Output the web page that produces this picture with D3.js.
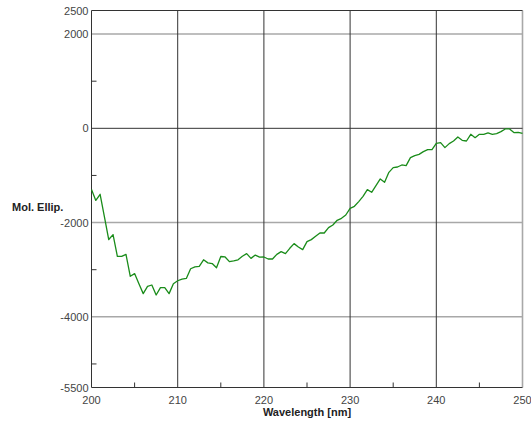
<!DOCTYPE html>
<html lang="en">

<head>
    <meta charset="UTF-8">
    <title>CD Spectrum</title>
    <script src="https://d3js.org/d3.v7.min.js"></script>
</head>

<style>
    body { margin: 0; background: #fff; }
    svg { display: block; font-family: Arial, "Liberation Sans", sans-serif; }
    .tick-label { font-size: 11px; fill: #444; }
    .axis-title { font-size: 11px; font-weight: bold; fill: #222; }
</style>

<body>
    <svg id="chart"></svg>
</body>

<script>
    // Data (0.5 nm steps)
    var wavelengths = [
        200, 200.5, 201, 201.5, 202, 202.5, 203, 203.5, 204, 204.5,
        205, 205.5, 206, 206.5, 207, 207.5, 208, 208.5, 209, 209.5,
        210, 210.5, 211, 211.5, 212, 212.5, 213, 213.5, 214, 214.5,
        215, 215.5, 216, 216.5, 217, 217.5, 218, 218.5, 219, 219.5,
        220, 220.5, 221, 221.5, 222, 222.5, 223, 223.5, 224, 224.5,
        225, 225.5, 226, 226.5, 227, 227.5, 228, 228.5, 229, 229.5,
        230, 230.5, 231, 231.5, 232, 232.5, 233, 233.5, 234, 234.5,
        235, 235.5, 236, 236.5, 237, 237.5, 238, 238.5, 239, 239.5,
        240, 240.5, 241, 241.5, 242, 242.5, 243, 243.5, 244, 244.5,
        245, 245.5, 246, 246.5, 247, 247.5, 248, 248.5, 249, 249.5,
        250
    ];
    var ellipticity = [
        -1300, -1530, -1400, -1880, -2360, -2255, -2716, -2716, -2674, -3140,
        -3083, -3300, -3508, -3353, -3325, -3537, -3381, -3381, -3508, -3300,
        -3235, -3200, -3185, -2980, -2940, -2930, -2790, -2855, -2870, -2960,
        -2720, -2730, -2830, -2815, -2790, -2716, -2660, -2760, -2690, -2735,
        -2730, -2773, -2773, -2674, -2617, -2659, -2546, -2447, -2518, -2574,
        -2404, -2362, -2292, -2221, -2221, -2107, -2052, -1952, -1910, -1840,
        -1698, -1655, -1555, -1443, -1301, -1358, -1216, -1075, -1146, -934,
        -834, -821, -778, -792, -622, -580, -552, -495, -452, -450,
        -318, -305, -410, -325, -269, -184, -255, -269, -127, -198,
        -127, -127, -99, -127, -113, -71, -14, -14, -90, -85,
        -110
    ];

    var xTicks = [200, 210, 220, 230, 240, 250];
    var xMinor = [205, 215, 225, 235, 245];
    var yLabels = [2500, 2000, 0, -2000, -4000, -5500];
    var yGrid = [2000, -2000, -4000];
    var yMinor = [1000, -1000, -3000, -5000];

    // Constants
    var margin = { top: 10.5, right: 8.5, bottom: 34.5, left: 91.5 },
        width = 531 - margin.left - margin.right,
        height = 422 - margin.top - margin.bottom;

    var svg = d3.select("#chart")
        .attr("width", 531)
        .attr("height", 422);

    var chart = svg.append("g")
        .attr("transform", "translate(" + margin.left + "," + margin.top + ")");

    var x = d3.scaleLinear().domain([200, 250]).range([0, width]);
    var y = d3.scaleLinear().domain([-5500, 2500]).range([height, 0]);

    var dark = "#333", grey = "#a8a8a8";

    // horizontal grid (light)
    chart.selectAll(".hgrid")
        .data(yGrid)
        .enter().append("line")
        .attr("x1", 0).attr("x2", width)
        .attr("y1", d => y(d)).attr("y2", d => y(d))
        .attr("stroke", grey).attr("stroke-width", 1.6);

    // right border (light)
    chart.append("line")
        .attr("x1", x(250)).attr("x2", x(250))
        .attr("y1", 0).attr("y2", height)
        .attr("stroke", grey).attr("stroke-width", 1.6);

    // vertical grid (dark)
    chart.selectAll(".vgrid")
        .data(xTicks.slice(1, -1))
        .enter().append("line")
        .attr("x1", d => x(d)).attr("x2", d => x(d))
        .attr("y1", 0).attr("y2", height)
        .attr("stroke", dark).attr("stroke-width", 1);

    // zero line, top border, axes
    chart.append("line")
        .attr("x1", 0).attr("x2", width)
        .attr("y1", y(0)).attr("y2", y(0))
        .attr("stroke", dark);
    chart.append("line")
        .attr("x1", 0).attr("x2", width)
        .attr("y1", y(2500)).attr("y2", y(2500))
        .attr("stroke", dark);
    chart.append("line")
        .attr("x1", 0).attr("x2", width)
        .attr("y1", height).attr("y2", height)
        .attr("stroke", dark);
    chart.append("line")
        .attr("x1", 0).attr("x2", 0)
        .attr("y1", 0).attr("y2", height)
        .attr("stroke", dark);

    // minor ticks pointing inward
    chart.selectAll(".xminor")
        .data(xMinor)
        .enter().append("line")
        .attr("x1", d => x(d)).attr("x2", d => x(d))
        .attr("y1", height).attr("y2", height - 5)
        .attr("stroke", dark);
    chart.selectAll(".yminor")
        .data(yMinor)
        .enter().append("line")
        .attr("x1", 0).attr("x2", 5)
        .attr("y1", d => y(d)).attr("y2", d => y(d))
        .attr("stroke", dark);

    // tick labels
    chart.selectAll(".ylab")
        .data(yLabels)
        .enter().append("text")
        .attr("class", "tick-label")
        .attr("text-anchor", "end")
        .attr("x", -3)
        .attr("y", d => y(d) + 4)
        .text(d => d);
    chart.selectAll(".xlab")
        .data(xTicks)
        .enter().append("text")
        .attr("class", "tick-label")
        .attr("text-anchor", "middle")
        .attr("x", d => x(d))
        .attr("y", height + 16)
        .text(d => d);

    // axis titles
    svg.append("text")
        .attr("class", "axis-title")
        .attr("x", 12)
        .attr("y", 211)
        .text("Mol. Ellip.");
    svg.append("text")
        .attr("class", "axis-title")
        .attr("text-anchor", "middle")
        .attr("x", margin.left + x(225))
        .attr("y", 416)
        .text("Wavelength [nm]");

    // spectrum
    var pts = wavelengths.map((w, i) => [w, ellipticity[i]]);
    chart.append("path")
        .datum(pts)
        .attr("fill", "none")
        .attr("stroke", "#1a8c1a")
        .attr("stroke-width", 1.3)
        .attr("stroke-linejoin", "round")
        .attr("d", d3.line().x(d => x(d[0])).y(d => y(d[1])));
</script>

</html>
